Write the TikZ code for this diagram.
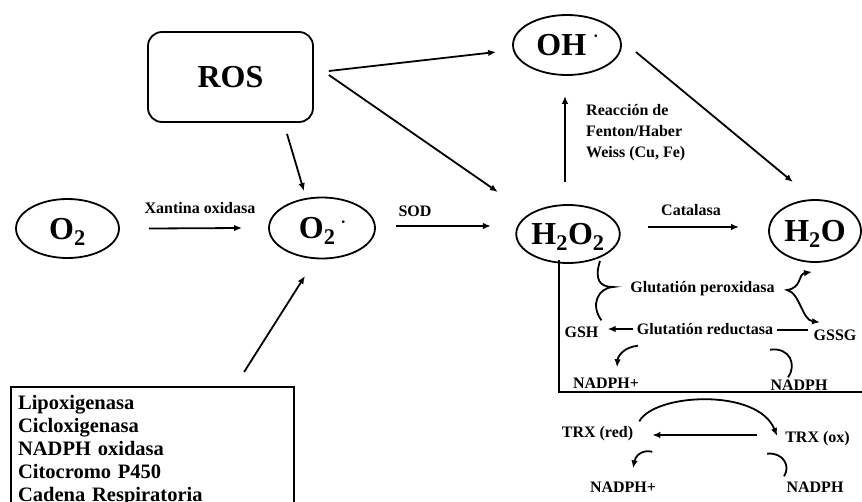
\documentclass[tikz,border=0pt]{standalone}
\usepackage{fontspec}
\setmainfont{Liberation Serif}
\usetikzlibrary{arrows.meta,shapes.geometric}
\tikzset{
  big/.style={font=\fontsize{32}{36}\selectfont\bfseries, text height=21pt, text depth=0pt},
  ell/.style={draw, ellipse, line width=1.8pt, inner sep=0pt, big},
  lbl/.style={font=\fontsize{16}{19}\selectfont\bfseries, inner sep=1pt, text height=11pt, text depth=0pt},
  mlbl/.style={font=\fontsize{16}{21}\selectfont\bfseries, inner sep=1pt, align=left},
  tip/.tip={Latex[length=8pt,width=6.5pt]},
  arr/.style={line width=1.8pt, -tip},
  ln/.style={line width=1.8pt},
}
\newcommand{\raddot}[1]{\raisebox{#1}{\fontsize{10}{10}\selectfont\textbullet}}
\begin{document}
\begin{tikzpicture}[x=1pt,y=-1pt]
\path[fill=white] (0,0) rectangle (862,501);
\useasboundingbox (0,0) rectangle (862,501);

% main species
\node[draw, rectangle, rounded corners=14pt, line width=1.8pt, minimum width=165pt, minimum height=90pt, big] (ros) at (230.5,77) {ROS};
\node[ell, minimum width=103pt, minimum height=59pt] (o2) at (67.5,228.5) {O\textsubscript{2}};
\node[ell, minimum width=106pt, minimum height=61pt] (o2r) at (322,228) {O\textsubscript{2}\hspace{6pt}\raddot{13pt}};
\node[ell, minimum width=108pt, minimum height=60pt] (oh) at (567,45) {OH\hspace{8pt}\raddot{16pt}};
\node[ell, minimum width=103pt, minimum height=58pt] (h2o2) at (568,234) {H\textsubscript{2}O\textsubscript{2}};
\node[ell, minimum width=92pt, minimum height=62pt] (h2o) at (815,231) {H\textsubscript{2}O};

% enzyme box
\node[draw, rectangle, line width=2.2pt, anchor=north west, inner xsep=7pt, inner ysep=8pt,
      text width=269pt, align=left, font=\fontsize{20.5}{23}\selectfont\bfseries] (enz) at (10,386)
  {Lipoxigenasa\\Cicloxigenasa\\NADPH oxidasa\\Citocromo P450\\Cadena Respiratoria\\\strut\\\strut};

% labels
\node[lbl] (xo) at (200,208) {Xantina oxidasa};
\node[lbl] (sod) at (415,211) {SOD};
\node[lbl] (cat) at (691,210) {Catalasa};
\node[mlbl, anchor=north west] (fen) at (585,103) {Reacción de\\Fenton/Haber\\Weiss (Cu, Fe)};
\node[lbl] (gperox) at (702.5,286.5) {Glutatión peroxidasa};
\node[lbl] (gred) at (705,329) {Glutatión reductasa};
\node[lbl] (gsh) at (581.5,332) {GSH};
\node[lbl] (gssg) at (835,335) {GSSG};
\node[lbl] (nadpa) at (606,383) {NADPH+};
\node[lbl] (nadpha) at (799,385) {NADPH};
\node[lbl] (trxr) at (597.5,432) {TRX (red)};
\node[lbl] (trxo) at (817.5,437) {TRX (ox)};
\node[lbl] (nadpb) at (623,487) {NADPH+};
\node[lbl] (nadphb) at (815,487) {NADPH};

% straight arrows
\draw[arr] ([shift={(29,0)}]o2.east) -- ([shift={(-26,0)}]o2r.west);
\draw[arr] ([shift={(20,-2)}]o2r.east) -- ([shift={(-24.5,-8)}]h2o2.west);
\draw[arr] ([shift={(27.5,-7)}]h2o2.east) -- ([shift={(-29,-4)}]h2o.west);
\draw[arr] ([shift={(56.5,11)}]ros.south) -- ([shift={(-18,-5.5)}]o2r.north);
\draw[arr] ([shift={(15,-6)}]ros.east) -- ([shift={(-16,7)}]oh.west);
\draw[arr] ([shift={(15,-2)}]ros.east) -- ([shift={(-17.5,-42)}]h2o2.west);
\draw[arr] ([shift={(-3,-22)}]h2o2.north) -- ([shift={(-2,20)}]oh.south);
\draw[arr] ([shift={(14,7)}]oh.east) -- ([shift={(-22,-17)}]h2o.north);
\draw[arr] ([shift={(91.5,-14)}]enz.north) -- ([shift={(-17,16.5)}]o2r.south);

% glutathione system
\coordinate (edge) at (870,392);
\draw[line width=2pt] ([shift={(-9,-4)}]h2o2.south) |- (edge);
\draw[ln] ([shift={(32,-3)}]h2o2.south) .. controls (594,280) and (600,287) .. (613,287)
          .. controls (598,288) and (590,305) .. ([shift={(20,-5)}]gsh.north);
\draw[ln, tip-tip] ([shift={(-3,9)}]h2o.south) .. controls (798,274) and (802,288) .. (787,290)
          .. controls (800,293) and (802,320) .. ([shift={(-15,-6)}]gssg.north);
\draw[arr] ([shift={(-3,0)}]gred.west) -- ([shift={(8,-3)}]gsh.east);
\draw[ln] ([shift={(-4,-5)}]gssg.west) -- ([shift={(3,1)}]gred.east);
\draw[arr] ([shift={(-67,10)}]gred.south) .. controls (625,347) and (618,355) .. ([shift={(11,-9)}]nadpa.north);
\draw[ln] ([shift={(65,14)}]gred.south) .. controls (790,347) and (797,365) .. ([shift={(-11,-1)}]nadpha.north);

% thioredoxin system
\draw[arr] ([shift={(-27,-2)}]trxo.west) -- ([shift={(18,3)}]trxr.east);
\draw[arr] ([shift={(5,-4)}]trxr.north east) .. controls (655,393) and (758,388) .. ([shift={(-7,-1)}]trxo.west);
\draw[arr] ([shift={(18,13)}]trxr.south east) .. controls (640,449) and (635,458) .. ([shift={(10,-12)}]nadpb.north);
\draw[ln] ([shift={(-17,10)}]trxo.south west) .. controls (783,452) and (791,466) .. ([shift={(-31,-4)}]nadphb.north);
\end{tikzpicture}
\end{document}
